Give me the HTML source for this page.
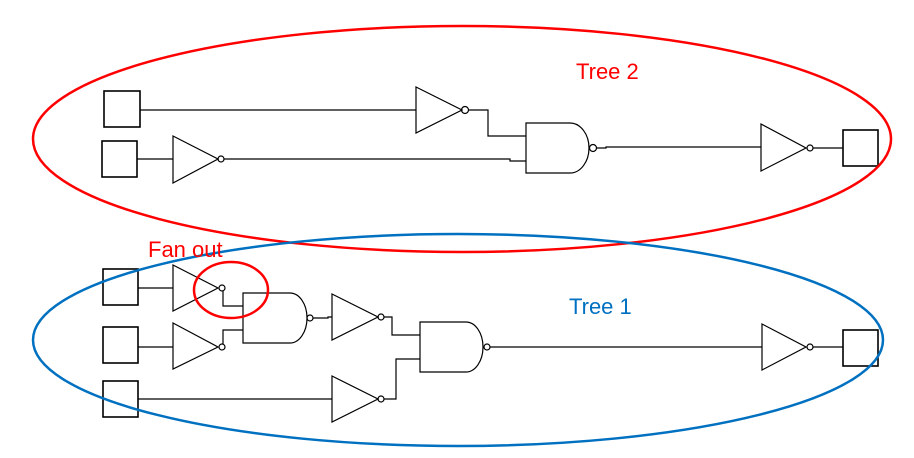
<!DOCTYPE html>
<html><head><meta charset="utf-8"><style>
html,body{margin:0;padding:0;background:#fff;}
svg{display:block;}
text{font-family:"Liberation Sans",sans-serif;font-size:22px;}
</style></head><body>
<svg width="914" height="458" viewBox="0 0 914 458" xmlns="http://www.w3.org/2000/svg">
<g fill="none" stroke="#000" stroke-width="1.2">
<!-- Tree 2 -->
<rect x="104" y="91" width="36" height="36" stroke-width="1.6"/>
<rect x="102" y="141" width="35" height="36" stroke-width="1.6"/>
<line x1="140" y1="110" x2="416" y2="110"/>
<polygon points="416,87 462,110 416,133"/>
<circle cx="465" cy="110" r="3.5"/>
<polyline points="468,110 488,110 488,136 526,136"/>
<line x1="137" y1="159" x2="173" y2="159"/>
<polygon points="173,136 218,159 173,183"/>
<circle cx="221" cy="159" r="3"/>
<polyline points="224,159 510,159 510,161 526,161"/>
<path d="M526,123 H570 A19,25 0 0 1 570,173 H526 Z"/>
<circle cx="593" cy="148" r="3.5"/>
<polyline points="596,148 606,148 606,147 761,147"/>
<polygon points="761,124 806,148 761,171"/>
<circle cx="810" cy="148" r="3"/>
<line x1="813" y1="148" x2="843" y2="148"/>
<rect x="843" y="130" width="35" height="36" stroke-width="1.6"/>
<!-- Tree 1 -->
<rect x="103" y="269" width="35" height="36" stroke-width="1.6"/>
<rect x="103" y="327" width="35" height="36" stroke-width="1.6"/>
<rect x="103" y="381" width="35" height="36" stroke-width="1.6"/>
<line x1="138" y1="288" x2="173" y2="288"/>
<polygon points="173,265 218,288 173,311"/>
<circle cx="222" cy="288" r="3"/>
<polyline points="223,291 223,306 243,306"/>
<line x1="138" y1="347" x2="173" y2="347"/>
<polygon points="173,323 218,347 173,369"/>
<circle cx="222" cy="347" r="3"/>
<polyline points="223,344 223,330 243,330"/>
<path d="M243,293 H290 A17,25 0 0 1 290,343 H243 Z"/>
<circle cx="310" cy="318" r="3"/>
<polyline points="313,318 328,318 328,317 332,317"/>
<polygon points="332,294 378,317 332,340"/>
<circle cx="381" cy="317" r="3"/>
<polyline points="384,317 392,317 392,335 420,335"/>
<line x1="138" y1="399" x2="332" y2="399"/>
<polygon points="332,376 378,399 332,422"/>
<circle cx="381" cy="399" r="3"/>
<polyline points="384,399 396,399 396,359 420,359"/>
<path d="M420,322 H466 A17,25 0 0 1 466,372 H420 Z"/>
<circle cx="487" cy="347" r="3"/>
<line x1="490" y1="347" x2="762" y2="347"/>
<polygon points="762,324 806,347 762,370"/>
<circle cx="810" cy="347" r="3"/>
<line x1="813" y1="347" x2="843" y2="347"/>
<rect x="843" y="330" width="35" height="36" stroke-width="1.6"/>
</g>
<ellipse cx="462" cy="139" rx="429" ry="113" fill="none" stroke="#ff0000" stroke-width="2.5"/>
<ellipse cx="458" cy="340" rx="425" ry="106" fill="none" stroke="#0070c0" stroke-width="2.5"/>
<ellipse cx="231" cy="290" rx="37" ry="28" fill="none" stroke="#ff0000" stroke-width="2.5"/>
<text x="576" y="79" fill="#ff0000">Tree 2</text>
<text x="569" y="314" fill="#0070c0">Tree 1</text>
<text x="148" y="257" fill="#ff0000">Fan out</text>
</svg>
</body></html>
